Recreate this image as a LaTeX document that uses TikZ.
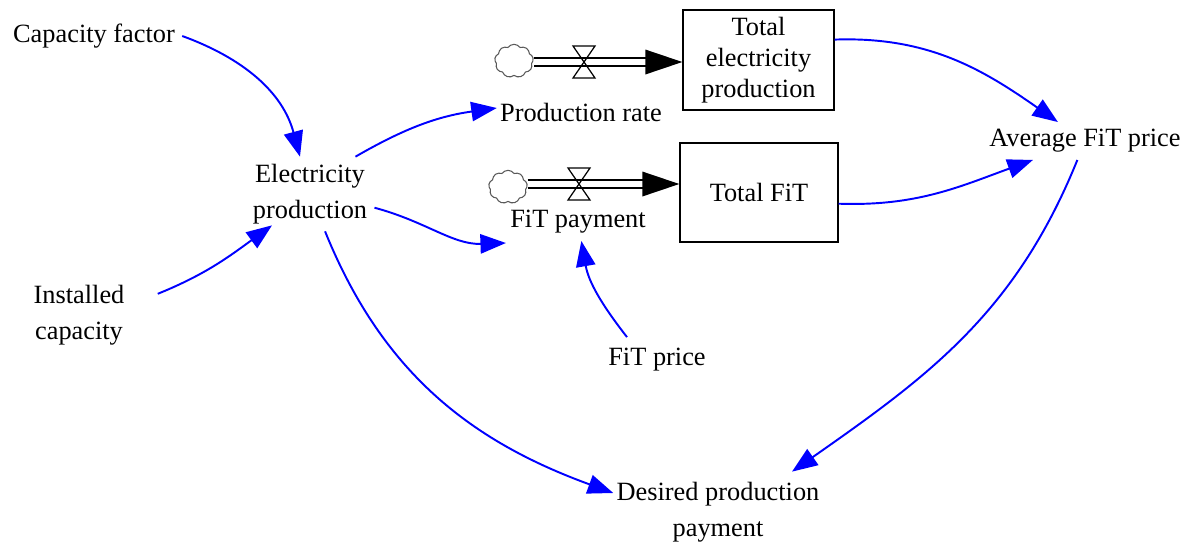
\documentclass[tikz,border=0pt]{standalone}
\usepackage{fontspec}
\setmainfont{Liberation Serif}
\usetikzlibrary{arrows.meta, shapes.symbols}

\begin{document}
\begin{tikzpicture}[
    x=0.02cm, y=-0.02cm,
    font=\fontsize{15}{20.5}\selectfont,
    var/.style={
        align=center,
        inner sep=4pt
    },
    stock/.style={
        rectangle,
        draw=black,
        line width=0.8pt,
        align=center,
        inner sep=0pt,
        font=\fontsize{15}{17.6}\selectfont
    },
    link/.style={
        draw=blue,
        line width=1.1pt,
        -{Triangle[length=14.5pt,width=11pt]}
    },
    pipe/.style={
        draw=black,
        double,
        line width=0.8pt,
        double distance=3.6pt
    },
    source/.style={
        cloud,
        cloud puffs=9,
        cloud puff arc=110,
        draw=black!65,
        line width=0.6pt,
        minimum width=22pt,
        minimum height=19pt,
        inner sep=0pt
    },
    valve/.style={
        draw=black,
        line width=0.7pt
    }
    ]
    \useasboundingbox (0,0) rectangle (1190,549);

    % stocks
    \node[stock, minimum width=3.02cm, minimum height=2cm] (tep) at (758.5,60)
        {Total\\electricity\\production};
    \node[stock, minimum width=3.16cm, minimum height=1.98cm] (tfit) at (759,192.5)
        {Total FiT};

    % auxiliaries
    \node[var] (cf) at (94,36) {Capacity factor};
    \node[var] (ep) at (310,194) {Electricity\\production};
    \node[var] (ic) at (79,315) {Installed\\capacity};
    \node[var] (pr) at (581,112) {Production rate};
    \node[var] (fp) at (578,222) {FiT payment};
    \node[var] (fpr) at (657,360) {FiT price};
    \node[var] (dpp) at (718,512) {Desired production\\payment};
    \node[var] (afp) at (1085,141) {Average FiT price};

    % flows
    \node[source] (src1) at (514,61) {};
    \node[source] (src2) at (508,187) {};
    \coordinate (v1) at (584,62);
    \coordinate (v2) at (579,184);

    \draw[pipe] (src1.east |- v1) -- ([xshift=-20pt]tep.west |- v1);
    \fill (tep.west |- v1) -- ++(-37,-12.5) -- ++(0,25) -- cycle;
    \draw[valve] (v1) -- ++(-11,-16) -- ++(22,0) -- cycle
                 (v1) -- ++(-11,16) -- ++(22,0) -- cycle;

    \draw[pipe] (src2.east |- v2) -- ([xshift=-20pt]tfit.west |- v2);
    \fill (tfit.west |- v2) -- ++(-37,-12.5) -- ++(0,25) -- cycle;
    \draw[valve] (v2) -- ++(-11,-16) -- ++(22,0) -- cycle
                 (v2) -- ++(-11,16) -- ++(22,0) -- cycle;

    % links
    \draw[link] (cf.east) to[out=-20, in=105] (ep);
    \draw[link] ([shift={(26,-2)}]ic.20) to[out=22, in=216] ([shift={(-38,-6)}]ep.south);
    \draw[link] ([shift={(-19,0)}]ep.north east) to[out=30, in=188] ([shift={(4,-4)}]pr.west);
    \draw[link] (ep.-12) to[out=-15, in=182] ([shift={(3,21)}]fp.west);
    \draw[link] (ep) to[out=-68, in=160] ([shift={(4,-19)}]dpp.west);
    \draw[link] ([shift={(-30,-4)}]fpr.north) to[out=128, in=-80] (fp);
    \draw[link] (tep.15) to[out=2, in=145] (afp);
    \draw[link] (tfit.-8) to[out=-2, in=200] (afp);
    \draw[link] (afp) to[out=-112, in=35] ([shift={(74,-3)}]dpp.north);
\end{tikzpicture}
\end{document}
